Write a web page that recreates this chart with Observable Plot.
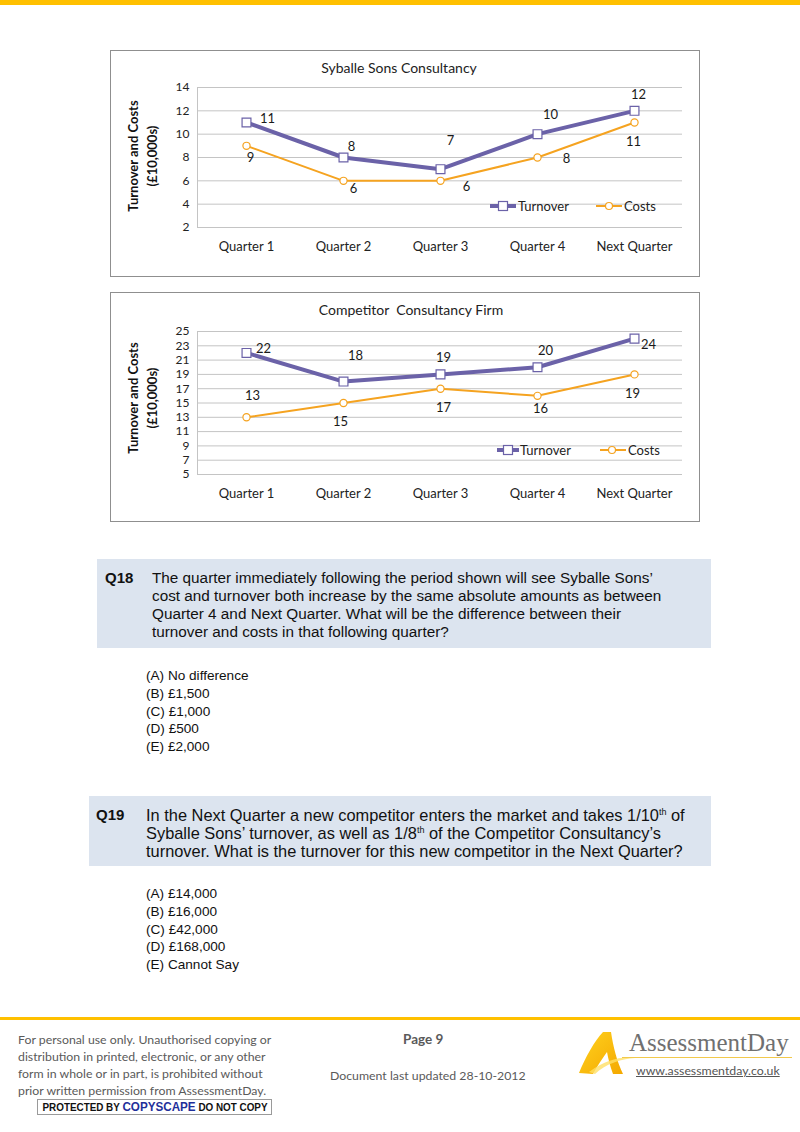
<!DOCTYPE html>
<html>
<head>
<meta charset="utf-8">
<script src="https://cdn.jsdelivr.net/npm/d3@7"></script>
<script src="https://cdn.jsdelivr.net/npm/@observablehq/plot@0.6"></script>
<style>
  html, body { margin: 0; padding: 0; background: #fff; }
  #page { position: relative; width: 800px; height: 1132px; overflow: hidden; background: #fff; }
  .abs { position: absolute; }
  .box { position: absolute; border: 1px solid #8f8f8f; box-sizing: border-box; background: #fff; }
  .ctitle { position: absolute; font-family: Lato, "Open Sans", sans-serif; font-size: 14px; color: #222; white-space: nowrap; transform: translateX(-50%); }
  .ytitle { position: absolute; width: 170px; height: 40px; font-family: Lato, sans-serif; font-weight: bold; font-size: 13px; line-height: 19px; text-align: center; color: #111; transform: rotate(-90deg); }
  .qbox { position: absolute; background: #dce4ef; }
  .qtext { position: absolute; font-family: "Liberation Sans", Arial, sans-serif; font-size: 15.3px; line-height: 18px; color: #111; white-space: nowrap; }
  .qnum { position: absolute; font-family: "Liberation Sans", Arial, sans-serif; font-size: 15px; font-weight: bold; color: #111; }
  .opt { position: absolute; font-family: "Liberation Sans", Arial, sans-serif; font-size: 13.6px; line-height: 17.8px; color: #111; white-space: nowrap; }
  sup { font-size: 9px; line-height: 0; vertical-align: 6px; }
  .foot { position: absolute; font-family: Lato, sans-serif; font-size: 12.3px; line-height: 17px; color: #5a5a5a; white-space: nowrap; }
</style>
</head>
<body>
<div id="page">
  <div class="abs" style="left:0;top:0;width:800px;height:5px;background:#FFC000;"></div>

  <!-- Chart 1 -->
  <div class="box" style="left:110px;top:50px;width:590px;height:227px;"></div>
  <div class="ctitle" style="left:399px;top:59px;">Syballe Sons Consultancy</div>
  <div class="ytitle" style="left:59px;top:136px;">Turnover and Costs<br>(£10,000s)</div>
  <div id="chart1" class="abs" style="left:110px;top:50px;"></div>
  <svg class="abs" style="left:488px;top:198px;" width="180" height="16">
    <line x1="2" x2="28" y1="8" y2="8" stroke="#6B62A8" stroke-width="4"/>
    <rect x="10.5" y="3.5" width="9" height="9" fill="#fff" stroke="#6B62A8" stroke-width="1.2"/>
    <text x="30" y="12.5" font-family="Lato, sans-serif" font-size="13" fill="#222">Turnover</text>
    <line x1="108" x2="134" y1="8" y2="8" stroke="#F5A320" stroke-width="2"/>
    <circle cx="121" cy="8" r="3.5" fill="#fff" stroke="#F5A320" stroke-width="1.2"/>
    <text x="136" y="12.5" font-family="Lato, sans-serif" font-size="13" fill="#222">Costs</text>
  </svg>

  <!-- Chart 2 -->
  <div class="box" style="left:110px;top:292px;width:590px;height:230px;"></div>
  <div class="ctitle" style="left:411px;top:301px;">Competitor&nbsp; Consultancy Firm</div>
  <div class="ytitle" style="left:59px;top:378px;">Turnover and Costs<br>(£10,000s)</div>
  <div id="chart2" class="abs" style="left:110px;top:292px;"></div>
  <svg class="abs" style="left:495px;top:442px;" width="180" height="16">
    <line x1="2" x2="24" y1="8" y2="8" stroke="#6B62A8" stroke-width="4"/>
    <rect x="8.5" y="3.5" width="9" height="9" fill="#fff" stroke="#6B62A8" stroke-width="1.2"/>
    <text x="25" y="12.5" font-family="Lato, sans-serif" font-size="13" fill="#222">Turnover</text>
    <line x1="105" x2="131" y1="8" y2="8" stroke="#F5A320" stroke-width="2"/>
    <circle cx="117" cy="8" r="3.5" fill="#fff" stroke="#F5A320" stroke-width="1.2"/>
    <text x="133" y="12.5" font-family="Lato, sans-serif" font-size="13" fill="#222">Costs</text>
  </svg>

  <!-- Q18 -->
  <div class="qbox" style="left:97px;top:559px;width:614px;height:89px;"></div>
  <div class="qnum" style="left:105px;top:569px;">Q18</div>
  <div class="qtext" style="left:152px;top:569px;">The quarter immediately following the period shown will see Syballe Sons’<br>cost and turnover both increase by the same absolute amounts as between<br>Quarter 4 and Next Quarter. What will be the difference between their<br>turnover and costs in that following quarter?</div>
  <div class="opt" style="left:146px;top:667px;">(A) No difference<br>(B) £1,500<br>(C) £1,000<br>(D) £500<br>(E) £2,000</div>

  <!-- Q19 -->
  <div class="qbox" style="left:89px;top:796px;width:622px;height:70px;"></div>
  <div class="qnum" style="left:96px;top:806px;">Q19</div>
  <div class="qtext" style="left:146px;top:806px;font-size:16.4px;">In the Next Quarter a new competitor enters the market and takes 1/10<sup>th</sup> of<br>Syballe Sons’ turnover, as well as 1/8<sup>th</sup> of the Competitor Consultancy’s<br>turnover. What is the turnover for this new competitor in the Next Quarter?</div>
  <div class="opt" style="left:146px;top:885px;">(A) £14,000<br>(B) £16,000<br>(C) £42,000<br>(D) £168,000<br>(E) Cannot Say</div>

  <!-- Footer -->
  <div class="abs" style="left:0;top:1017px;width:800px;height:3px;background:#FFC000;"></div>
  <div class="foot" style="left:18px;top:1031px;">For personal use only. Unauthorised copying or<br>distribution in printed, electronic, or any other<br>form in whole or in part, is prohibited without<br>prior written permission from AssessmentDay.</div>
  <div class="abs" style="left:37px;top:1099px;width:235px;height:16px;border:1px solid #9a9a9a;box-sizing:border-box;background:#fff;overflow:hidden;">
    <span id="cs" style="position:absolute;left:50%;top:0;white-space:nowrap;font-family:'Liberation Sans',Arial,sans-serif;font-weight:bold;font-size:11px;line-height:14px;color:#111;transform-origin:0 50%;">PROTECTED BY <span style="color:#1f2f9a;font-size:13px;">COPYSCAPE</span> DO NOT COPY</span>
  </div>
  <div class="foot" style="left:403px;top:1031px;font-weight:bold;font-size:13.5px;">Page 9</div>
  <div class="foot" style="left:330px;top:1067px;">Document last updated 28-10-2012</div>
  <svg class="abs" style="left:575px;top:1028px;" width="60" height="52">
    <defs>
      <linearGradient id="lg" x1="0" y1="0" x2="1" y2="1">
        <stop offset="0" stop-color="#FFD21F"/>
        <stop offset="1" stop-color="#F4A800"/>
      </linearGradient>
    </defs>
    <path d="M4 45 C10 30 20 12 28 4 L36 4 C38 18 42 34 48 46 L38 46 C35 38 33 30 32 24 C28 30 22 38 18 46 Z" fill="url(#lg)"/>
    <path d="M14 44 C30 32 46 28 60 30 C46 31 30 36 20 46 Z" fill="#FFE066" opacity="0.8"/>
  </svg>
  <div class="abs" style="left:629px;top:1029px;font-family:'Liberation Serif','DejaVu Serif',serif;font-size:25px;color:#707070;white-space:nowrap;">AssessmentDay</div>
  <div class="abs" style="left:622px;top:1057px;width:170px;height:1px;background:#f2c94c;"></div>
  <div class="abs" style="left:636px;top:1063px;font-family:Lato,sans-serif;font-size:12.3px;color:#555;text-decoration:underline;white-space:nowrap;">www.assessmentday.co.uk</div>
</div>

<script>
// ---------- data ----------
const quarters = ["Quarter 1", "Quarter 2", "Quarter 3", "Quarter 4", "Next Quarter"];
const syballeTurnover = [11, 8, 7, 10, 12];
const syballeCosts = [9, 6, 6, 8, 11];
const competitorTurnover = [22, 18, 19, 20, 24];
const competitorCosts = [13, 15, 17, 16, 19];
const syballeTicks = [2, 4, 6, 8, 10, 12, 14];
const competitorTicks = [5, 7, 9, 11, 13, 15, 17, 19, 21, 23, 25];

// ---------- styles / label placements (not data) ----------
const TURN = "#6B62A8", COST = "#F5A320";
const syballeTurnOff = [[21, -4], [8, -11], [10, -28], [13, -19], [4, -16]];
const syballeCostOff = [[4, 12], [10, 8], [26, 6], [29, 1], [-1, 19]];
const compTurnOff = [[17, -4], [12, -26], [3, -17], [8, -16], [14, 6]];
const compCostOff = [[6, -21], [-3, 19], [3, 19], [3, 13], [-2, 19]];

function build(turn, cost, ticks, turnOff, costOff, height, mTop, mBottom) {
  const rows = quarters.map((q, i) => ({quarter: q, turnover: turn[i], costs: cost[i]}));
  const labelMarks = [];
  rows.forEach((d, i) => {
    labelMarks.push(Plot.text([d], {x: "quarter", y: "turnover", text: r => String(r.turnover),
      dx: turnOff[i][0], dy: turnOff[i][1], fontSize: 13, fill: "#1a1a1a"}));
    labelMarks.push(Plot.text([d], {x: "quarter", y: "costs", text: r => String(r.costs),
      dx: costOff[i][0], dy: costOff[i][1], fontSize: 13, fill: "#1a1a1a"}));
  });
  return Plot.plot({
    width: 590,
    height,
    marginLeft: 87,
    marginRight: 18,
    marginTop: mTop,
    marginBottom: mBottom,
    style: {fontFamily: "Lato, 'Open Sans', sans-serif", fontSize: "12px", color: "#222", background: "transparent", overflow: "visible"},
    x: {type: "point", domain: quarters, padding: 0.5, label: null},
    y: {domain: [ticks[0], ticks[ticks.length - 1]], label: null},
    marks: [
      Plot.ruleY(ticks, {stroke: "#c4c4c4", strokeWidth: 1}),
      Plot.frame({anchor: "left", stroke: "#c4c4c4"}),
      Plot.axisY({ticks, tickSize: 0, tickPadding: 8, fontSize: 12, label: null}),
      Plot.axisX({tickSize: 0, tickPadding: 14, fontSize: 13, label: null}),
      Plot.line(rows, {x: "quarter", y: "costs", stroke: COST, strokeWidth: 2}),
      Plot.line(rows, {x: "quarter", y: "turnover", stroke: TURN, strokeWidth: 4}),
      Plot.dot(rows, {x: "quarter", y: "costs", r: 3.6, fill: "#fff", stroke: COST, strokeWidth: 1.2}),
      Plot.dot(rows, {x: "quarter", y: "turnover", symbol: "square", r: 5, fill: "#fff", stroke: TURN, strokeWidth: 1.2}),
      ...labelMarks
    ]
  });
}

document.getElementById("chart1").append(
  build(syballeTurnover, syballeCosts, syballeTicks, syballeTurnOff, syballeCostOff, 227, 37, 50));
document.getElementById("chart2").append(
  build(competitorTurnover, competitorCosts, competitorTicks, compTurnOff, compCostOff, 230, 39, 48));

// fit the copyscape badge text into 225px
const cs = document.getElementById("cs");
const w = cs.getBoundingClientRect().width;
const s = 225 / w;
cs.style.transform = `translateX(${-112.5}px) scaleX(${s})`;
</script>
</body>
</html>
